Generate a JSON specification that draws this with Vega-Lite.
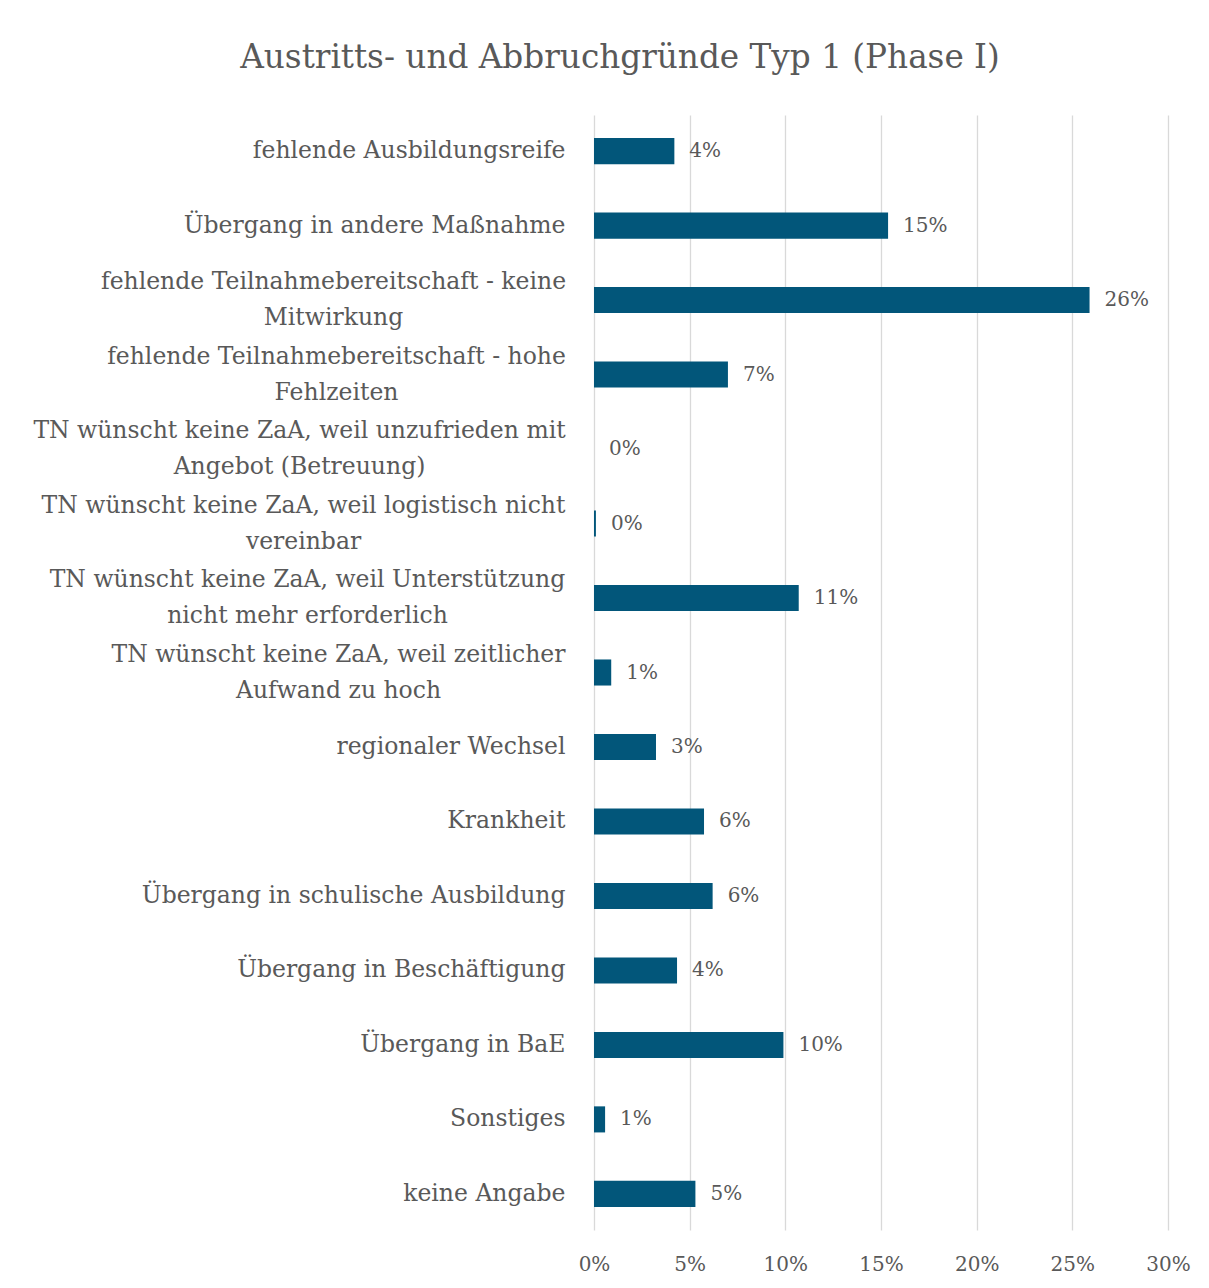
{
  "$schema": "https://vega.github.io/schema/vega-lite/v6.json",
  "width": 574,
  "height": 1115,
  "autosize": "none",
  "padding": {"left": 594, "top": 115, "right": 41, "bottom": 58},
  "background": "white",
  "title": {
    "text": "Austritts- und Abbruchgründe Typ 1 (Phase I)",
    "font": "DejaVu Serif",
    "fontSize": 32.7,
    "fontWeight": "normal",
    "color": "#595959",
    "anchor": "middle",
    "dx": -261,
    "offset": 40
  },
  "data": {
    "values": [
      {"grund": "fehlende Ausbildungsreife", "anteil": 0.042},
      {"grund": "Übergang in andere Maßnahme", "anteil": 0.1537},
      {"grund": "fehlende Teilnahmebereitschaft - keine\nMitwirkung", "anteil": 0.259},
      {"grund": "fehlende Teilnahmebereitschaft - hohe\nFehlzeiten", "anteil": 0.07},
      {"grund": "TN wünscht keine ZaA, weil unzufrieden mit\nAngebot (Betreuung)", "anteil": 0.0},
      {"grund": "TN wünscht keine ZaA, weil logistisch nicht\nvereinbar", "anteil": 0.001},
      {"grund": "TN wünscht keine ZaA, weil Unterstützung\nnicht mehr erforderlich", "anteil": 0.107},
      {"grund": "TN wünscht keine ZaA, weil zeitlicher\nAufwand zu hoch", "anteil": 0.009},
      {"grund": "regionaler Wechsel", "anteil": 0.0324},
      {"grund": "Krankheit", "anteil": 0.0575},
      {"grund": "Übergang in schulische Ausbildung", "anteil": 0.062},
      {"grund": "Übergang in Beschäftigung", "anteil": 0.0434},
      {"grund": "Übergang in BaE", "anteil": 0.099},
      {"grund": "Sonstiges", "anteil": 0.0058},
      {"grund": "keine Angabe", "anteil": 0.053}
    ]
  },
  "encoding": {
    "y": {
      "field": "grund",
      "type": "nominal",
      "sort": null,
      "scale": {"paddingInner": 0.65, "paddingOuter": 0.31},
      "axis": {
        "title": null,
        "domain": false,
        "ticks": false,
        "grid": false,
        "labelFont": "DejaVu Serif",
        "labelFontSize": 23.5,
        "labelColor": "#595959",
        "labelLimit": 0,
        "labelLineHeight": 36,
        "labelExpr": "split(datum.label, '\\n')",
        "labelAlign": {
          "condition": {"test": "indexof(datum.value, '\\n') >= 0", "value": "center"},
          "value": "right"
        },
        "labelOffset": {
          "condition": {"test": "indexof(datum.value, '\\n') >= 0", "value": -18},
          "value": 0
        },
        "labelPadding": {
          "condition": [
            {"test": "indexof(datum.value, 'keine\\nMitwirkung') >= 0", "value": 261},
            {"test": "indexof(datum.value, 'hohe\\nFehlzeiten') >= 0", "value": 258},
            {"test": "indexof(datum.value, 'unzufrieden') >= 0", "value": 295},
            {"test": "indexof(datum.value, 'logistisch') >= 0", "value": 291},
            {"test": "indexof(datum.value, 'Unterstützung') >= 0", "value": 287},
            {"test": "indexof(datum.value, 'zeitlicher') >= 0", "value": 256}
          ],
          "value": 29
        }
      }
    },
    "x": {
      "field": "anteil",
      "type": "quantitative",
      "scale": {"domain": [0, 0.3], "nice": false},
      "axis": {
        "title": null,
        "domain": false,
        "ticks": false,
        "format": ".0%",
        "values": [0, 0.05, 0.1, 0.15, 0.2, 0.25, 0.3],
        "labelFlush": false,
        "labelFont": "DejaVu Serif",
        "labelFontSize": 20,
        "labelColor": "#595959",
        "labelPadding": 24,
        "gridColor": "#d9d9d9",
        "gridWidth": 1.3
      }
    }
  },
  "layer": [
    {"mark": {"type": "bar", "color": "#02567A"}},
    {
      "mark": {
        "type": "text",
        "align": "left",
        "baseline": "middle",
        "dx": 15,
        "font": "DejaVu Serif",
        "fontSize": 20,
        "color": "#595959"
      },
      "encoding": {"text": {"field": "anteil", "format": ".0%"}}
    }
  ],
  "config": {"view": {"stroke": null}}
}
